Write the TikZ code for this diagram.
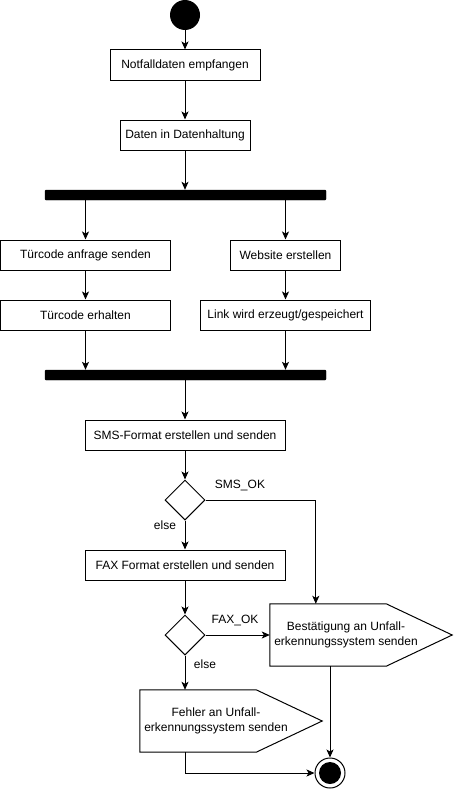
\documentclass[tikz,border=0pt]{standalone}
\usepackage{fontspec}
\setmainfont{Liberation Sans}
\usetikzlibrary{arrows.meta,shapes.geometric,calc}
\begin{document}
\begin{tikzpicture}[x=1pt,y=-1pt,
  every node/.style={font=\fontsize{12}{15}\selectfont, inner sep=0pt},
  act/.style={draw, line width=1pt, minimum height=30, fill=white},
  bar/.style={fill=black, draw=black, rounded corners=1, minimum width=281, minimum height=10},
  dec/.style={draw, line width=1pt, diamond, minimum width=40, minimum height=40, aspect=1},
  sig/.style={minimum width=182, minimum height=62, draw=none},
  lbl/.style={font=\fontsize{12}{15}\selectfont},
  conn/.style={line width=1pt, -{Stealth[length=8pt,width=7pt,inset=2pt]}},
  plain/.style={line width=1pt}
]
\useasboundingbox (0,0) rectangle (453,792);

\node[circle, fill=black, minimum size=30] (start) at (185,15) {};
\node[act, minimum width=150] (n1) at (185,65) {Notfalldaten empfangen};
\node[act, minimum width=130] (n2) at (185,135) {Daten in Datenhaltung};
\node[bar] (fork1) at (185.5,195) {};
\node[act, minimum width=170] (a1) at (85.5,255) {Türcode anfrage senden};
\node[act, minimum width=110] (b1) at (285.5,255) {Website erstellen};
\node[act, minimum width=170] (a2) at (85.5,315) {Türcode erhalten};
\node[act, minimum width=170] (b2) at (285.5,315) {Link wird erzeugt/gespeichert};
\node[bar] (fork2) at (185.5,375) {};
\node[act, minimum width=200] (sms) at (185,435) {SMS-Format erstellen und senden};
\node[dec] (d1) at (185,500) {};
\node[act, minimum width=200] (fax) at (185,565) {FAX Format erstellen und senden};
\node[dec] (d2) at (185,635) {};
\node[sig] (conf) at (361,635) {};
\node[sig] (err) at (231,721) {};
\node[circle, draw, line width=1pt, minimum size=30, fill=white] (end) at (330,773) {};
\node[circle, fill=black, minimum size=22] (endin) at (end.center) {};

% send signal shapes
\draw[line width=1pt] (conf.north west) -- ($(conf.north east)+(-66,0)$) -- (conf.east)
  -- ($(conf.south east)+(-66,0)$) -- (conf.south west) -- cycle;
\draw[line width=1pt] (err.north west) -- ($(err.north east)+(-66,0)$) -- (err.east)
  -- ($(err.south east)+(-66,0)$) -- (err.south west) -- cycle;
\node[align=center] (conft) at ($(conf.center)+(-15,0)$) {Bestätigung an Unfall-\\erkennungssystem senden};
\node[align=center] (errt) at ($(err.center)+(-15,0)$) {Fehler an Unfall-\\erkennungssystem senden};

% labels
\node[lbl] (lsms) at (240,485) {SMS\_OK};
\node[lbl] (lelse1) at (165,525) {else};
\node[lbl] (lfax) at (235,620) {FAX\_OK};
\node[lbl] (lelse2) at (205,664) {else};

\coordinate (smsdown) at ($(conf.north west)+(46,0)$);

% connectors
\draw[conn] (start) -- (n1);
\draw[conn] (n1) -- (n2);
\draw[conn] (n2) -- (n2 |- fork1.north);
\draw[conn] (a1 |- fork1.south) -- (a1);
\draw[conn] (b1 |- fork1.south) -- (b1);
\draw[conn] (a1) -- (a2);
\draw[conn] (b1) -- (b2);
\draw[conn] (a2) -- (a2 |- fork2.north);
\draw[conn] (b2) -- (b2 |- fork2.north);
\draw[conn] (sms |- fork2.south) -- (sms);
\draw[conn] (sms) -- (d1);
\draw[conn] (d1) -- (fax);
\draw[conn] (d1.east) -| (smsdown);
\draw[conn] (fax) -- (d2);
\draw[conn] (d2.east) -- (conf.west);
\draw[conn] (d2.south) -- (d2.south |- err.north);
\draw[conn] (conf.south -| end) -- (end.north);
\draw[conn] (err.south -| d2) |- (end.west);
\end{tikzpicture}
\end{document}
